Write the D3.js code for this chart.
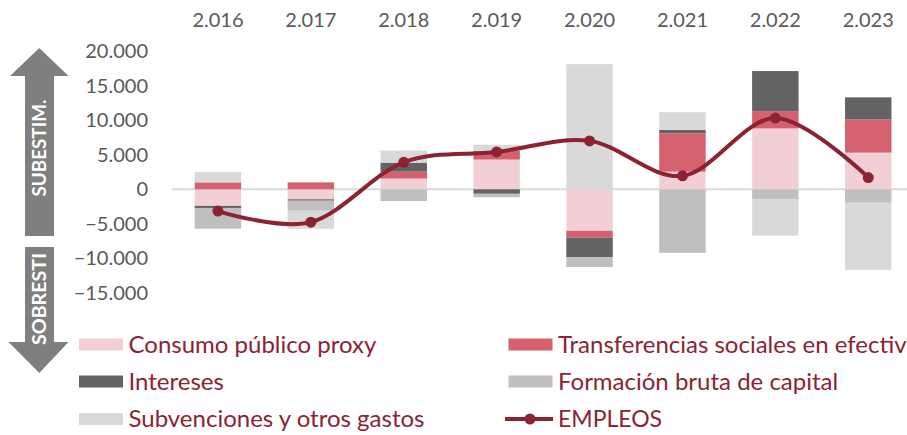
<!DOCTYPE html>
<html><head><meta charset="utf-8">
<script src="https://cdn.jsdelivr.net/npm/d3@7"></script>
<style>body{margin:0;background:#fff}svg{display:block;font-family:Lato,"Open Sans",sans-serif}</style>
</head><body><svg id="c" width="907" height="435"></svg>
<script>
const years = ["2.016","2.017","2.018","2.019","2.020","2.021","2.022","2.023"];
const consumo = [-2400,-1450,1550,4300,-6000,2550,8800,5300];
const transferencias = [1000,1000,1000,1250,-1000,5550,2500,4800];
const intereses = [-300,-200,1300,-650,-2800,500,5800,3200];
const formacion = [-3000,-1450,-1700,-500,-1450,-9200,-1400,-1950];
const subvenciones = [1500,-2600,1750,900,18100,2550,-5300,-9700];
const empleos = [-3150,-4750,3900,5400,7000,1950,10300,1700];
const yTicks = [20000,15000,10000,5000,0,-5000,-10000,-15000];
const seriesNames = ["Consumo público proxy","Transferencias sociales en efectivo","Intereses","Formación bruta de capital","Subvenciones y otros gastos"];
const seriesColors = ["#f2cfd4","#d5616f","#636363","#bfbfbf","#d9d9d9"];
const lineName = "EMPLEOS";
const lineColor = "#8b2332";

const svg = d3.select("#c");
const x = d3.scaleBand().domain(years).range([171.5, 914.7]).paddingInner(0.5).paddingOuter(0.25);
const y = d3.scaleLinear().domain([-15000, 20000]).range([293, 51]);

const fmt = v => d3.format(",")(v).replace(/,/g, ".");

// y tick labels
svg.append("g").selectAll("text").data(yTicks).join("text")
  .attr("x", 148).attr("y", d => y(d)).attr("dy", "0.35em")
  .attr("text-anchor", "end").attr("font-size", 20).attr("fill", "#595959")
  .text(fmt);

// year labels on top
svg.append("g").selectAll("text").data(years).join("text")
  .attr("x", d => x(d) + x.bandwidth()/2).attr("y", 20).attr("dy", "0.35em")
  .attr("text-anchor", "middle").attr("font-size", 20).attr("fill", "#595959")
  .text(d => d);

// zero line
svg.append("line").attr("x1", 171.5).attr("x2", 907).attr("y1", y(0)).attr("y2", y(0))
  .attr("stroke", "#d9d9d9").attr("stroke-width", 2);

// stacked bars
const table = years.map((yr, i) => ({year: yr, s0: consumo[i], s1: transferencias[i], s2: intereses[i], s3: formacion[i], s4: subvenciones[i]}));
const keys = ["s0","s1","s2","s3","s4"];
const stacked = d3.stack().keys(keys).offset(d3.stackOffsetDiverging)(table);
svg.append("g").selectAll("g").data(stacked).join("g")
  .attr("fill", (d, i) => seriesColors[i])
  .selectAll("rect").data(d => d).join("rect")
  .attr("x", d => x(d.data.year)).attr("width", x.bandwidth())
  .attr("y", d => y(Math.max(d[0], d[1])))
  .attr("height", d => Math.abs(y(d[0]) - y(d[1])));

// line
const line = d3.line().x((d, i) => x(years[i]) + x.bandwidth()/2).y(d => y(d)).curve(d3.curveCatmullRom.alpha(0));
svg.append("path").datum(empleos).attr("d", line).attr("fill", "none")
  .attr("stroke", lineColor).attr("stroke-width", 4);
svg.append("g").selectAll("circle").data(empleos).join("circle")
  .attr("cx", (d, i) => x(years[i]) + x.bandwidth()/2).attr("cy", d => y(d)).attr("r", 5.5)
  .attr("fill", lineColor);

// arrows
const arrowColor = "#7f7f7f";
svg.append("path").attr("fill", arrowColor)
  .attr("d", "M39.3,48 L68.5,76 L54,76 L54,236 L25,236 L25,76 L10,76 Z");
svg.append("path").attr("fill", arrowColor)
  .attr("d", "M25,247 L54,247 L54,342 L68.5,342 L39.3,373 L8.5,342 L25,342 Z");
svg.append("text").attr("transform", "translate(40,148) rotate(-90)").attr("dy", "0.35em")
  .attr("text-anchor", "middle").attr("font-size", 18).attr("font-weight", "bold").attr("fill", "#fff")
  .attr("textLength", 97).attr("lengthAdjust", "spacingAndGlyphs").text("SUBESTIM.");
svg.append("text").attr("transform", "translate(40,299) rotate(-90)").attr("dy", "0.35em")
  .attr("text-anchor", "middle").attr("font-size", 18).attr("font-weight", "bold").attr("fill", "#fff")
  .attr("textLength", 92).attr("lengthAdjust", "spacingAndGlyphs").text("SOBRESTI");

// legend
const legendItems = [
  {name: seriesNames[0], color: seriesColors[0], x: 79, y: 344.5},
  {name: seriesNames[1], color: seriesColors[1], x: 508.5, y: 344.5},
  {name: seriesNames[2], color: seriesColors[2], x: 79, y: 381.5},
  {name: seriesNames[3], color: seriesColors[3], x: 508.5, y: 381.5},
  {name: seriesNames[4], color: seriesColors[4], x: 79, y: 419}
];
const lg = svg.append("g");
legendItems.forEach(it => {
  lg.append("rect").attr("x", it.x).attr("y", it.y - 6).attr("width", 44).attr("height", 12).attr("fill", it.color);
  lg.append("text").attr("x", it.x + 49.5).attr("y", it.y).attr("dy", "0.35em")
    .attr("font-size", 24).attr("fill", lineColor).text(it.name);
});
lg.append("line").attr("x1", 505).attr("x2", 553).attr("y1", 419).attr("y2", 419)
  .attr("stroke", lineColor).attr("stroke-width", 4);
lg.append("circle").attr("cx", 530).attr("cy", 419).attr("r", 5.5).attr("fill", lineColor);
lg.append("text").attr("x", 558).attr("y", 419).attr("dy", "0.35em")
  .attr("font-size", 23).attr("fill", lineColor).text(lineName);
</script></body></html>
